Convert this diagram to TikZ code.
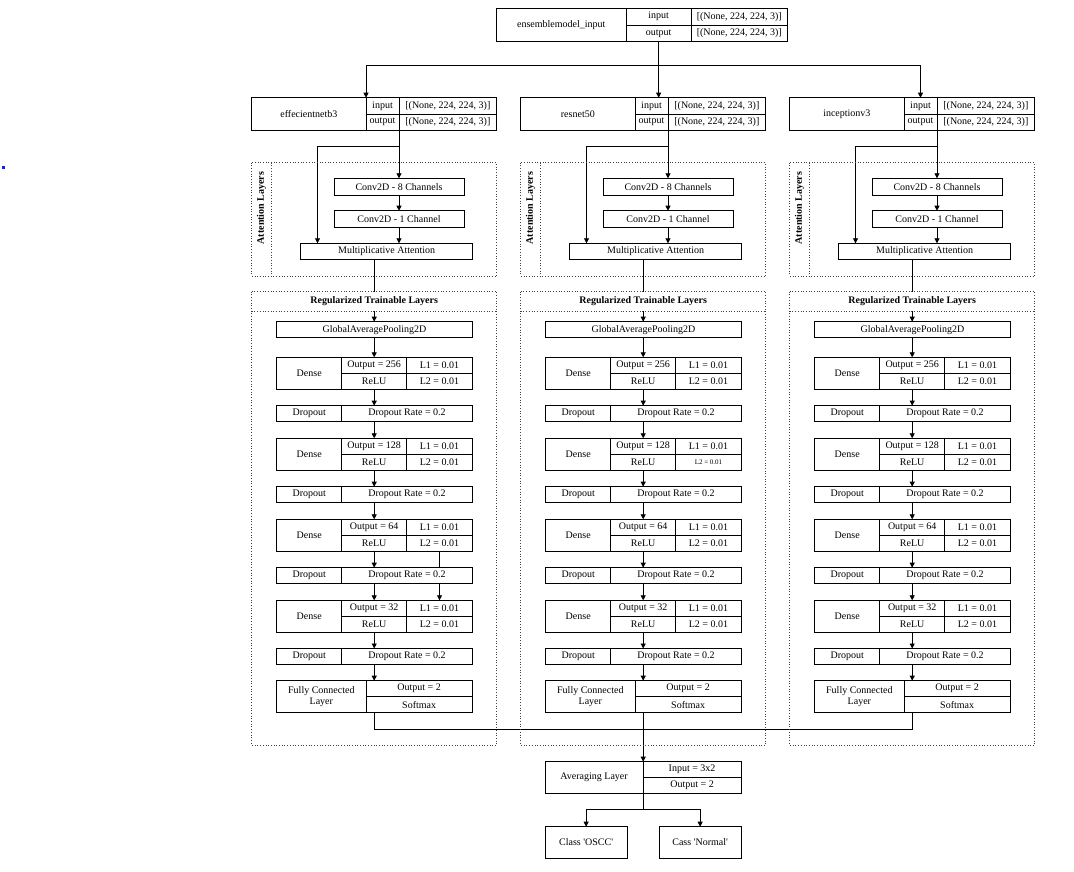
\documentclass[tikz,border=0pt]{standalone}
\usepackage{fontspec}
\setmainfont{Liberation Serif}
\usetikzlibrary{arrows.meta,backgrounds}
\tikzset{
  cell/.style={draw, line width=0.8pt, fill=white, inner sep=0pt, outer sep=0pt,
    font=\fontsize{10}{11.5}\selectfont, align=center},
  arr/.style={-{Triangle[length=5pt,width=5pt]}, line width=0.8pt},
  conn/.style={line width=0.8pt},
  dotbox/.style={dotted, line width=0.7pt, black!75},
  grouplabel/.style={font=\fontsize{10}{11.5}\selectfont\bfseries, inner sep=0pt}
}
% name, x1, y1, x2, y2, text
\newcommand\cellbox[6]{\node[cell, minimum width={((#4)-(#2))*1pt}, minimum height={((#5)-(#3))*1pt}]
  (#1) at ({((#2)+(#4))/2},{((#3)+(#5))/2}) {#6};}
% name, ytop, output, L2 text
\newcommand\denseblock[4]{%
  \cellbox{#1-n}{276.7}{#2}{341.7}{#2+32}{Dense}
  \cellbox{#1-o}{341.7}{#2}{406.7}{#2+16}{Output = #3}
  \cellbox{#1-r}{341.7}{#2+16}{406.7}{#2+32}{ReLU}
  \cellbox{#1-l1}{406.7}{#2}{472.3}{#2+16}{L1 = 0.01}
  \cellbox{#1-l2}{406.7}{#2+16}{472.3}{#2+32}{#4}}
\newcommand\dropblock[2]{%
  \cellbox{#1-a}{276.7}{#2}{341.7}{#2+16}{Dropout}
  \cellbox{#1-b}{341.7}{#2}{472.3}{#2+16}{Dropout Rate = 0.2}}
% column index, x shift, model name, L2 text of second dense
\newcommand\colblock[4]{%
\begin{scope}[xshift=#2pt]
  \cellbox{m#1-n}{251.7}{97.7}{366}{130}{#3}
  \cellbox{m#1-i}{366}{97.7}{399}{114}{input}
  \cellbox{m#1-o}{366}{114}{399}{130}{output}
  \cellbox{m#1-iv}{399}{97.7}{496.7}{114}{[(None, 224, 224, 3)]}
  \cellbox{m#1-ov}{399}{114}{496.7}{130}{[(None, 224, 224, 3)]}
  \coordinate (b#1) at (317.5,146.5);
  \draw[dotbox] (251.7,162.7) rectangle (496.7,276);
  \draw[dotbox] (271,162.7) -- (271,276);
  \node[grouplabel, rotate=90] (al#1) at (261.5,208) {Attention Layers};
  \cellbox{cva#1}{334}{178.3}{464}{195}{Conv2D - 8 Channels}
  \cellbox{cvb#1}{334}{210.7}{464}{227.3}{Conv2D - 1 Channel}
  \cellbox{ma#1}{300.7}{243.3}{472.7}{259.3}{Multiplicative Attention}
  \node[grouplabel, fill=white, minimum width=245pt, minimum height=19.3pt] (rh#1) at (374.2,301.35) {Regularized Trainable Layers};
  \draw[dotbox] (251.7,291.7) rectangle (496.7,745);
  \draw[dotbox] (251.7,311) -- (496.7,311);
  \cellbox{gap#1}{276.7}{321.7}{472.3}{337.7}{GlobalAveragePooling2D}
  \denseblock{da#1}{357.3}{256}{L2 = 0.01}
  \dropblock{pa#1}{405.7}
  \denseblock{db#1}{438.3}{128}{#4}
  \dropblock{pb#1}{486.7}
  \denseblock{dc#1}{519.3}{64}{L2 = 0.01}
  \dropblock{pc#1}{567.7}
  \denseblock{dd#1}{600.3}{32}{L2 = 0.01}
  \dropblock{pd#1}{648.5}
  \cellbox{fc#1-n}{276.7}{680.7}{366}{712.7}{Fully Connected\\Layer}
  \cellbox{fc#1-o}{366}{680.7}{472.3}{696.7}{Output = 2}
  \cellbox{fc#1-s}{366}{696.7}{472.3}{712.7}{Softmax}
  \coordinate (f#1) at (fc#1-s.south -| dd#1-r.south);
  \begin{pgfonlayer}{background}
    \draw[arr] (m#1-ov.south west) -- (m#1-ov.south west |- cva#1.north);
    \draw[arr] (m#1-ov.south west |- b#1) -- (b#1) -- (b#1 |- ma#1.north);
    \draw[arr] (cva#1.south) -- (cvb#1.north);
    \draw[arr] (cvb#1.south) -- (cvb#1.south |- ma#1.north);
    \draw[arr] (ma#1.south -| da#1-o.north) -- (gap#1.north -| da#1-o.north);
    \draw[arr] (gap#1.south -| da#1-o.north) -- (da#1-o.north);
    \draw[arr] (da#1-r.south) -- (da#1-r.south |- pa#1-b.north);
    \draw[arr] (pa#1-b.south -| da#1-r.south) -- (db#1-o.north);
    \draw[arr] (db#1-r.south) -- (db#1-r.south |- pb#1-b.north);
    \draw[arr] (pb#1-b.south -| db#1-r.south) -- (dc#1-o.north);
    \draw[arr] (dc#1-r.south) -- (dc#1-r.south |- pc#1-b.north);
    \draw[arr] (pc#1-b.south -| dc#1-r.south) -- (dd#1-o.north);
    \draw[arr] (dd#1-r.south) -- (dd#1-r.south |- pd#1-b.north);
    \draw[arr] (pd#1-b.south -| dd#1-r.south) -- (fc#1-o.north -| dd#1-r.south);
  \end{pgfonlayer}
\end{scope}}
\begin{document}
\begin{tikzpicture}[x=1pt,y=-1pt]
\useasboundingbox (0,0) rectangle (1074,871);
\fill[blue!85!cyan] (1.7,166) rectangle (4.5,169);
% top input box
\cellbox{top-n}{496.3}{8.3}{626.3}{41.7}{ensemblemodel\_input}
\cellbox{top-i}{626.3}{8.3}{691}{25}{input}
\cellbox{top-o}{626.3}{25}{691}{41.7}{output}
\cellbox{top-iv}{691}{8.3}{787.5}{25}{[(None, 224, 224, 3)]}
\cellbox{top-ov}{691}{25}{787.5}{41.7}{[(None, 224, 224, 3)]}
% columns
\colblock{1}{0}{effecientnetb3}{L2 = 0.01}
\colblock{2}{269}{resnet50}{{\fontsize{7}{8}\selectfont L2 = 0.01}}
\colblock{3}{538}{inceptionv3}{L2 = 0.01}
% averaging and classes
\cellbox{avg-n}{545}{761.7}{643.2}{793.3}{Averaging Layer}
\cellbox{avg-i}{643.2}{761.7}{741}{777.7}{Input = 3x2}
\cellbox{avg-o}{643.2}{777.7}{741}{793.3}{Output = 2}
\cellbox{osc}{545}{826.7}{627.3}{858.3}{Class \textquotesingle OSCC\textquotesingle}
\cellbox{nor}{659.3}{826.7}{741}{858.3}{Cass \textquotesingle Normal\textquotesingle}
\coordinate (j1) at (m1-i.north west |- 0,65);
\coordinate (j3) at (m3-i.north |- 0,65);
\coordinate (sp) at (f2 |- 0,809.3);
\begin{pgfonlayer}{background}
  \draw[arr] (top-o.south) -- (top-o.south |- m2-i.north);
  \draw[conn] (j1) -- (j3);
  \draw[arr] (j1) -- (m1-i.north west);
  \draw[arr] (j3) -- (m3-i.north);
  \draw[arr] (dc1-l2.south) -- (dd1-l1.north);
  \draw[conn] (f1) -- (f1 |- 0,729) -- (f3 |- 0,729) -- (f3);
  \draw[arr] (f2) -- (f2 |- avg-i.north);
  \draw[conn] (f2 |- avg-i.north) -- (sp);
  \draw[arr] (sp) -| (osc.north);
  \draw[arr] (sp) -| (nor.north);
\end{pgfonlayer}
\end{tikzpicture}
\end{document}
